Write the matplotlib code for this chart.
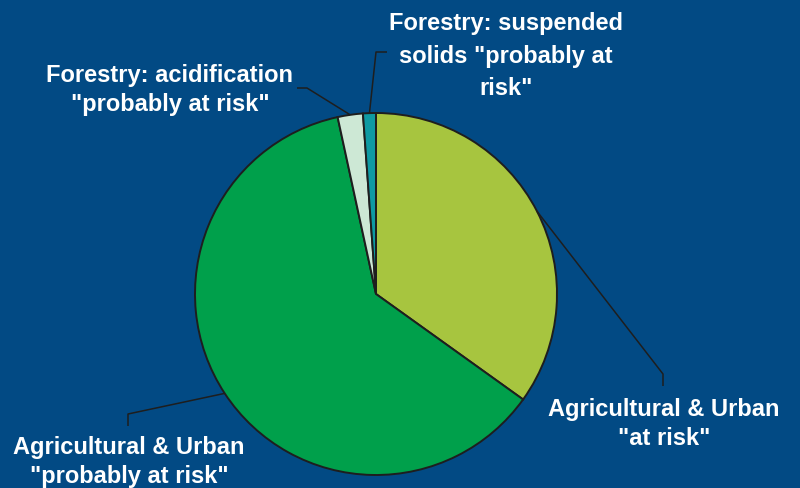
import numpy as np
import matplotlib
matplotlib.use("Agg")
import matplotlib.pyplot as plt

# Data (percent of water bodies)
categories = ['Agricultural & Urban\n"at risk"',
              'Agricultural & Urban\n"probably at risk"',
              'Forestry: acidification\n"probably at risk"',
              'Forestry: suspended\nsolids "probably at\nrisk"']
values = [34.9, 61.7, 2.25, 1.15]
colors = ['#A7C53F', '#00A04B', '#CDE8D5', '#0E9AA3']

BG = '#024A84'
W, H = 800, 488

fig = plt.figure(figsize=(8, 4.88), dpi=100, facecolor=BG)
ax = fig.add_axes([0, 0, 1, 1])
ax.set_facecolor(BG)

cx, cy, r = 376, H - 294, 181
wedges, _ = ax.pie(values, colors=colors, startangle=90, counterclock=False,
                   center=(cx, cy), radius=r, frame=True,
                   wedgeprops=dict(edgecolor='#1e1e1e', linewidth=1.4))
ax.set_xlim(0, W)
ax.set_ylim(0, H)
ax.set_aspect('equal')
ax.axis('off')

# leader lines (label anchor points in pixel coords, y from top)
label_pos = [(664, 424), (129, 462), (170, 90), (506, 56)]
elbow = [[(663, 374), (663, 386)],
         [(128, 414), (128, 426)],
         [(307, 88), (297, 88)],
         [(376, 52), (387, 52)]]
linesp = [1.35, 1.3, 1.35, 1.52]

for w, lp, el, cat, ls in zip(wedges, label_pos, elbow, categories, linesp):
    mid = np.deg2rad((w.theta1 + w.theta2) / 2)
    sx, sy = cx + r * np.cos(mid), cy + r * np.sin(mid)
    xs = [sx] + [p[0] for p in el]
    ys = [sy] + [H - p[1] for p in el]
    ax.plot(xs, ys, color='#1e1e1e', lw=1.1, solid_capstyle='butt')
    ax.text(lp[0], H - lp[1], cat, ha='center', va='center', multialignment='center',
            color='white', fontsize=17, fontweight='bold',
            family=['Liberation Sans', 'DejaVu Sans'], linespacing=ls)

fig.savefig('out.png', dpi=100, facecolor=BG)
